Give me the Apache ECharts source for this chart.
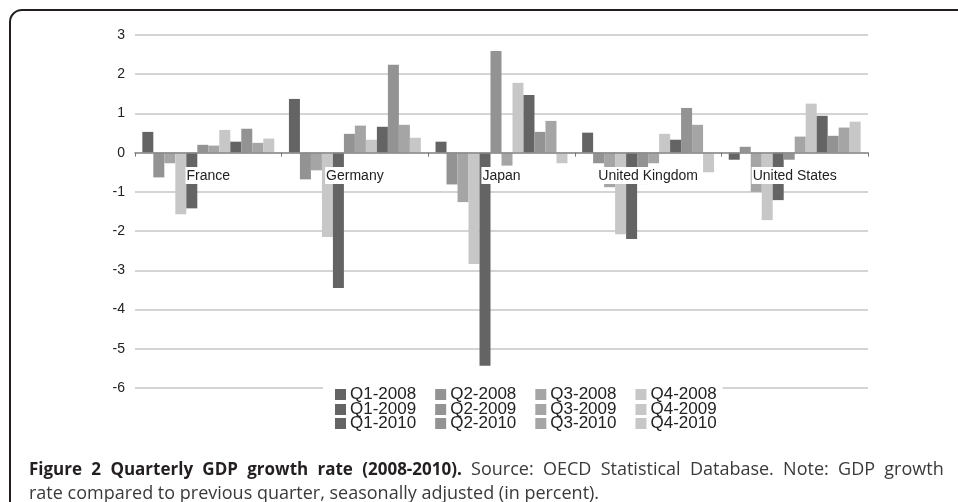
<!DOCTYPE html>
<html>
<head>
<meta charset="utf-8">
<script src="https://cdn.jsdelivr.net/npm/echarts@6/dist/echarts.min.js"></script>
<style>
  html, body { margin: 0; padding: 0; background: #fff; }
  #chart { width: 958px; height: 502px; }
</style>
</head>
<body>
<div id="chart"></div>
<script>
// countries on the x axis
const countries = ['France', 'Germany', 'Japan', 'United Kingdom', 'United States'];

// quarters, one series each
const quarters = [
    'Q1-2008', 'Q2-2008', 'Q3-2008', 'Q4-2008',
    'Q1-2009', 'Q2-2009', 'Q3-2009', 'Q4-2009',
    'Q1-2010', 'Q2-2010', 'Q3-2010', 'Q4-2010'
];

// growth per country, one row per country, in quarter order
const france  = [0.53, -0.63, -0.27, -1.57, -1.42, 0.20, 0.18, 0.58, 0.28, 0.61, 0.25, 0.36];
const germany = [1.37, -0.68, -0.45, -2.15, -3.45, 0.48, 0.69, 0.33, 0.66, 2.24, 0.71, 0.38];
const japan   = [0.28, -0.81, -1.26, -2.84, -5.43, 2.59, -0.33, 1.78, 1.47, 0.53, 0.81, -0.27];
const uk      = [0.51, -0.27, -0.88, -2.08, -2.20, -0.80, -0.27, 0.48, 0.33, 1.14, 0.71, -0.50];
const us      = [-0.18, 0.15, -1.00, -1.72, -1.21, -0.18, 0.41, 1.25, 0.94, 0.43, 0.64, 0.79];

const yTicks = [3, 2, 1, 0, -1, -2, -3, -4, -5, -6];

const captionBold = 'Figure 2 Quarterly GDP growth rate (2008-2010).';
const captionLine1 = 'Source: OECD Statistical Database. Note: GDP growth';
const captionLine2 = 'rate compared to previous quarter, seasonally adjusted (in percent).';

const rows = [france, germany, japan, uk, us];
// one grey per quarter of the year
const greys = ['#646464', '#939393', '#a5a5a6', '#c7c7c7'];

const font = 'Liberation Sans, Arial, Helvetica, sans-serif';

// first caption line is justified: words joined by wide spaces
function justify(text, style) {
    return text.split(' ').map(function (w) { return '{' + style + '|' + w + '}'; }).join('{g| }');
}
const caption = justify(captionBold, 'b') + '{g| }' + justify(captionLine1, 'n') +
    '\n{n|' + captionLine2 + '}';

let myChart = echarts.init(document.getElementById('chart'));

const series = quarters.map(function (q, i) {
    return {
        name: q,
        type: 'bar',
        data: rows.map(function (r) { return r[i]; }),
        barGap: '0%',
        barCategoryGap: '10%',
        itemStyle: { color: greys[i % 4] },
        emphasis: { disabled: true }
    };
});

function legendRow(n, top) {
    return {
        data: quarters.slice(n * 4, n * 4 + 4),
        left: 323,
        top: top,
        orient: 'horizontal',
        itemWidth: 11,
        itemHeight: 11,
        itemGap: 19,
        icon: 'rect',
        padding: [0, 6, 0, 12],
        backgroundColor: '#fff',
        selectedMode: false,
        textStyle: { fontFamily: font, fontSize: 17, color: '#222', padding: [0, 0, 0, -1] }
    };
}

myChart.setOption({
    animation: false,
    backgroundColor: '#fff',
    grid: { left: 135, right: 90, top: 35, bottom: 114 },
    legend: [legendRow(0, 386), legendRow(1, 401), legendRow(2, 415)],
    title: {
        left: 24,
        top: 453,
        text: caption,
        textStyle: {
            fontWeight: 'normal',
            rich: {
                b: { fontFamily: 'Open Sans', fontWeight: 'bold', fontSize: 17, color: '#231f20', lineHeight: 24 },
                n: { fontFamily: 'Open Sans', fontWeight: 'normal', fontSize: 18, color: '#3a3a3a', lineHeight: 24 },
                g: { fontFamily: 'Open Sans', fontSize: 18, width: 9.3, lineHeight: 24 }
            }
        }
    },
    xAxis: [{
        type: 'category',
        data: countries,
        z: 5,
        axisLine: { onZero: true, lineStyle: { color: '#8a8a8a', width: 1.5 } },
        axisTick: { show: true, length: 4, lineStyle: { color: '#777' } },
        axisLabel: { show: false }
    }, {
        // country names sit just under the zero line
        type: 'category',
        data: countries,
        position: 'bottom',
        offset: -235,
        z: 6,
        axisLine: { show: false },
        axisTick: { show: false },
        axisLabel: {
            interval: 0,
            margin: 14,
            fontFamily: font,
            fontSize: 14,
            color: '#222',
            backgroundColor: '#fff',
            padding: [2, 1, 1, 1]
        }
    }],
    yAxis: {
        type: 'value',
        min: -6,
        max: 3,
        interval: 1,
        axisLine: { show: false },
        axisTick: { show: false },
        axisLabel: {
            margin: 10,
            fontFamily: font,
            fontSize: 14,
            color: '#222',
            formatter: function (v) { return yTicks.indexOf(v) >= 0 ? String(v) : ''; }
        },
        splitLine: { lineStyle: { color: '#c6c6c6', width: 1.5 } }
    },
    graphic: [{
        type: 'rect',
        silent: true,
        shape: { x: 10, y: 10, width: 980, height: 520, r: [12, 0, 0, 0] },
        style: { fill: 'none', stroke: '#231f20', lineWidth: 2 }
    }],
    series: series
});
</script>
</body>
</html>
